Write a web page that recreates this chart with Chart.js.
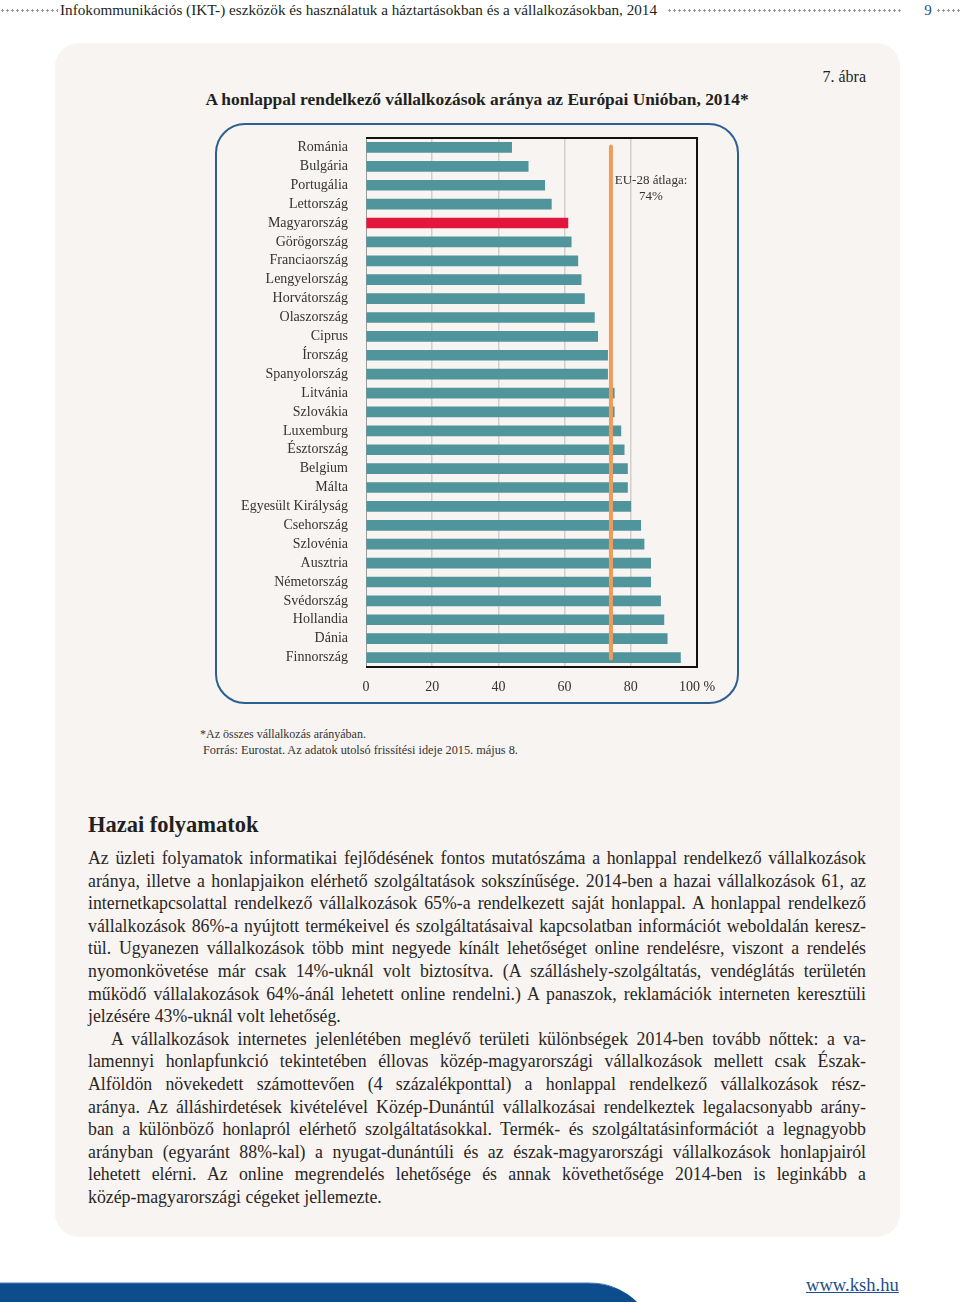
<!DOCTYPE html>
<html lang="hu">
<head>
<meta charset="utf-8">
<script src="https://cdn.jsdelivr.net/npm/chart.js@4.4.1/dist/chart.umd.min.js"></script>
<style>
  html, body { margin: 0; padding: 0; background: #ffffff; }
  body { width: 960px; height: 1308px; position: relative; overflow: hidden;
         font-family: "Liberation Serif", "DejaVu Serif", serif; color: #231f20; }
  .abs { position: absolute; }
  .dots { position: absolute; top: 9px; height: 3px;
          background-image: radial-gradient(circle, #9a9a9a 1px, rgba(0,0,0,0) 1.3px);
          background-size: 5px 3px; background-repeat: repeat-x; }
  #htext { left: 60px; top: 0px; font-size: 15.2px; line-height: 20px; white-space: nowrap; }
  #pnum { left: 918px; top: 0px; width: 20px; text-align: center; font-size: 15px; line-height: 20px; color: #1d4f8c; }
  #panel { left: 55px; top: 43px; width: 845px; height: 1194px; background: #f7f4f1; border-radius: 24px; }
  #frame { left: 215px; top: 123px; width: 520px; height: 577px; border: 2px solid #2c5f92; border-radius: 30px; }
  #title { left: 140px; top: 89px; width: 674px; text-align: center; font-weight: bold; font-size: 17.4px; }
  #fig { left: 760px; top: 68px; width: 106px; text-align: right; font-size: 16px; }
  #chartwrap { left: 220px; top: 128px; width: 500px; height: 590px; }
  #eulabel { left: 606px; top: 172px; width: 90px; text-align: center; font-size: 13px; line-height: 16px; color: #333; }
  .note { font-size: 12px; color: #333; }
  #heading { left: 88px; top: 812px; font-weight: bold; font-size: 22.5px; }
  #text { left: 88px; top: 847px; width: 778px; font-size: 17.8px; line-height: 22.6px; color: #2a2626; }
  #text div { text-align: justify; text-align-last: justify; white-space: nowrap; }
  #text div.last { text-align-last: left; }
  #text div.ind { text-indent: 23px; }
  #link { left: 806px; top: 1274px; font-size: 18.6px; color: #1d4f8c; text-decoration: underline; }
</style>
</head>
<body>
<div class="dots" style="left:0px;width:58px;"></div>
<div id="htext" class="abs">Infokommunikációs (IKT-) eszközök és használatuk a háztartásokban és a vállalkozásokban, 2014</div>
<div class="dots" style="left:667px;width:236px;"></div>
<div id="pnum" class="abs">9</div>
<div class="dots" style="left:936px;width:24px;"></div>
<div id="panel" class="abs"></div>
<div id="fig" class="abs">7. ábra</div>
<div id="title" class="abs">A honlappal rendelkező vállalkozások aránya az Európai Unióban, 2014*</div>
<div id="frame" class="abs"></div>
<div id="chartwrap" class="abs"><canvas id="c" width="500" height="590"></canvas></div>
<div id="eulabel" class="abs">EU-28 átlaga:<br>74%</div>
<div class="abs note" style="left:200px;top:727px;">*Az összes vállalkozás arányában.</div>
<div class="abs note" style="left:203px;top:743px;font-size:12.3px;">Forrás: Eurostat. Az adatok utolsó frissítési ideje 2015. május 8.</div>
<div id="heading" class="abs">Hazai folyamatok</div>
<div id="text" class="abs">
<div>Az üzleti folyamatok informatikai fejlődésének fontos mutatószáma a honlappal rendelkező vállalkozások</div>
<div>aránya, illetve a honlapjaikon elérhető szolgáltatások sokszínűsége. 2014-ben a hazai vállalkozások 61, az</div>
<div>internetkapcsolattal rendelkező vállalkozások 65%-a rendelkezett saját honlappal. A honlappal rendelkező</div>
<div>vállalkozások 86%-a nyújtott termékeivel és szolgáltatásaival kapcsolatban információt weboldalán keresz-</div>
<div>tül. Ugyanezen vállalkozások több mint negyede kínált lehetőséget online rendelésre, viszont a rendelés</div>
<div>nyomonkövetése már csak 14%-uknál volt biztosítva. (A szálláshely-szolgáltatás, vendéglátás területén</div>
<div>működő vállalakozások 64%-ánál lehetett online rendelni.) A panaszok, reklamációk interneten keresztüli</div>
<div class="last">jelzésére 43%-uknál volt lehetőség.</div>
<div class="ind">A vállalkozások internetes jelenlétében meglévő területi különbségek 2014-ben tovább nőttek: a va-</div>
<div>lamennyi honlapfunkció tekintetében éllovas közép-magyarországi vállalkozások mellett csak Észak-</div>
<div>Alföldön növekedett számottevően (4 százalékponttal) a honlappal rendelkező vállalkozások rész-</div>
<div>aránya. Az álláshirdetések kivételével Közép-Dunántúl vállalkozásai rendelkeztek legalacsonyabb arány-</div>
<div>ban a különböző honlapról elérhető szolgáltatásokkal. Termék- és szolgáltatásinformációt a legnagyobb</div>
<div>arányban (egyaránt 88%-kal) a nyugat-dunántúli és az észak-magyarországi vállalkozások honlapjairól</div>
<div>lehetett elérni. Az online megrendelés lehetősége és annak követhetősége 2014-ben is leginkább a</div>
<div class="last">közép-magyarországi cégeket jellemezte.</div>
</div>
<svg class="abs" style="left:0;top:1280px;" width="700" height="28">
  <path d="M0,3 L588,3 Q618,3 637,22 L0,22 Z" fill="#0d4c8d"/>
  <path d="M0,3 L588,3 Q605,3 615,8" fill="none" stroke="#4a7fb5" stroke-width="1"/>
</svg>
<div id="link" class="abs">www.ksh.hu</div>

<script>
const countries = ["Románia","Bulgária","Portugália","Lettország","Magyarország","Görögország","Franciaország","Lengyelország","Horvátország","Olaszország","Ciprus","Írország","Spanyolország","Litvánia","Szlovákia","Luxemburg","Észtország","Belgium","Málta","Egyesült Királyság","Csehország","Szlovénia","Ausztria","Németország","Svédország","Hollandia","Dánia","Finnország"];
const shares = [44,49,54,56,61,62,64,65,66,69,70,73,73,75,75,77,78,79,79,80,83,84,86,86,89,90,91,95];
const highlight = "Magyarország";
const euAverage = 74;
const xTickValues = [0,20,40,60,80,100];
const xTickLabels = ["0","20","40","60","80","100 %"];

const TEAL = "#4f959b", RED = "#e2173e", ORANGE = "#ee9b5b";

const framePlugin = {
  id: "framePlugin",
  afterDatasetsDraw(chart) {
    const { ctx, chartArea: a, scales: { x, y } } = chart;
    ctx.save();
    const px = x.getPixelForValue(euAverage);
    ctx.strokeStyle = ORANGE; ctx.lineWidth = 4; ctx.lineCap = "round";
    ctx.beginPath();
    ctx.moveTo(px, y.getPixelForValue(0) - 1);
    ctx.lineTo(px, y.getPixelForValue(countries.length - 1) + 1);
    ctx.stroke();
    ctx.lineCap = "butt";
    ctx.strokeStyle = "#111"; ctx.lineWidth = 2;
    ctx.beginPath();
    ctx.moveTo(a.left, a.top); ctx.lineTo(a.right, a.top); ctx.lineTo(a.right, a.bottom); ctx.lineTo(a.left, a.bottom);
    ctx.stroke();
    ctx.restore();
  }
};

new Chart(document.getElementById("c"), {
  type: "bar",
  data: {
    labels: countries,
    datasets: [{
      data: shares,
      backgroundColor: countries.map(c => c === highlight ? RED : TEAL),
      barThickness: 10,
      borderWidth: 0
    }]
  },
  options: {
    indexAxis: "y",
    responsive: false,
    animation: false,
    layout: { padding: { top: 10, right: 23, bottom: 21, left: 0 } },
    plugins: { legend: { display: false }, tooltip: { enabled: false } },
    scales: {
      x: {
        type: "linear", min: 0, max: 100,
        afterBuildTicks(s) { s.ticks = xTickValues.map(v => ({ value: v })); },
        afterFit(s) { s.height = 30; s.paddingLeft = 0; s.paddingRight = 0; },
        ticks: {
          padding: 12,
          font: { family: "Liberation Serif", size: 14 }, color: "#333",
          callback(v) { const i = xTickValues.indexOf(v); return i >= 0 ? xTickLabels[i] : ""; }
        },
        grid: {
          drawTicks: false,
          color(ctx) { const v = ctx.tick && ctx.tick.value; return (v === 0 || v === 100) ? "rgba(0,0,0,0)" : "#d2d0ce"; },
          lineWidth: 1.5
        },
        border: { display: false }
      },
      y: {
        type: "category",
        afterFit(s) { s.width = 146; s.paddingTop = 0; s.paddingBottom = 0; },
        ticks: {
          padding: 18, autoSkip: false,
          font: { family: "Liberation Serif", size: 14 }, color: "#333"
        },
        grid: { display: false, drawTicks: false },
        border: { display: true, color: "#9a9a9a", width: 1 }
      }
    }
  },
  plugins: [framePlugin]
});
</script>
</body>
</html>
